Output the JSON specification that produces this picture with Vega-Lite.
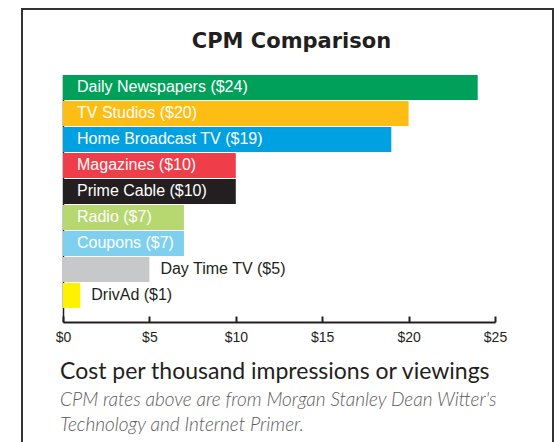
{
  "$schema": "https://vega.github.io/schema/vega-lite/v6.json",
  "width": 531,
  "height": 439,
  "autosize": "none",
  "padding": {"left": 22, "top": 9, "right": 3, "bottom": -6},
  "background": "white",
  "title": {
    "text": "Cost per thousand impressions or viewings",
    "subtitle": ["CPM rates above are from Morgan Stanley Dean Witter's", "Technology and Internet Primer."],
    "orient": "bottom",
    "anchor": "start",
    "frame": "group",
    "offset": -87,
    "dx": 38,
    "font": "Lato",
    "fontSize": 23,
    "fontWeight": "normal",
    "color": "#231F20",
    "subtitleFont": "Lato",
    "subtitleFontSize": 19,
    "subtitleFontStyle": "italic",
    "subtitleFontWeight": 300,
    "subtitleColor": "#5a5a5a",
    "subtitleLineHeight": 25,
    "subtitlePadding": 7
  },
  "data": {
    "values": [
      {"medium": "Daily Newspapers", "cpm": 24, "label": "Daily Newspapers ($24)"},
      {"medium": "TV Studios", "cpm": 20, "label": "TV Studios ($20)"},
      {"medium": "Home Broadcast TV", "cpm": 19, "label": "Home Broadcast TV ($19)"},
      {"medium": "Magazines", "cpm": 10, "label": "Magazines ($10)"},
      {"medium": "Prime Cable", "cpm": 10, "label": "Prime Cable ($10)"},
      {"medium": "Radio", "cpm": 7, "label": "Radio ($7)"},
      {"medium": "Coupons", "cpm": 7, "label": "Coupons ($7)"},
      {"medium": "Day Time TV", "cpm": 5, "label": "Day Time TV ($5)"},
      {"medium": "DrivAd", "cpm": 1, "label": "DrivAd ($1)"}
    ]
  },
  "encoding": {
    "y": {
      "field": "medium",
      "type": "nominal",
      "sort": null,
      "scale": {"range": [66, 313], "paddingInner": 0.04, "paddingOuter": 0.27, "align": 0},
      "axis": {"orient": "left", "offset": -41, "ticks": false, "labels": false, "title": null, "domainColor": "#231F20", "domainWidth": 1.5, "grid": false}
    }
  },
  "layer": [
    {
      "mark": {"type": "bar"},
      "encoding": {
        "x": {
          "field": "cpm",
          "type": "quantitative",
          "scale": {"domain": [0, 25], "range": [41, 473], "nice": false},
          "axis": {"orient": "bottom", "offset": -126, "values": [0, 5, 10, 15, 20, 25], "format": "$.0f", "tickSize": -6, "tickWidth": 2, "tickColor": "#231F20", "domainColor": "#231F20", "domainWidth": 2, "labelFont": "Liberation Sans", "labelFontSize": 14, "labelColor": "#231F20", "labelPadding": 14, "labelFlush": false, "title": null, "grid": false}
        },
        "color": {
          "field": "medium",
          "type": "nominal",
          "scale": {
            "domain": ["Daily Newspapers", "TV Studios", "Home Broadcast TV", "Magazines", "Prime Cable", "Radio", "Coupons", "Day Time TV", "DrivAd"],
            "range": ["#00A05B", "#FDBD13", "#00A1E1", "#EF3E4A", "#231F20", "#B7D771", "#7ED0EE", "#C7C8CA", "#FFF200"]
          },
          "legend": null
        }
      }
    },
    {
      "transform": [{"filter": "datum.cpm > 5"}],
      "mark": {"type": "text", "align": "left", "baseline": "middle", "dx": 14, "font": "Liberation Sans", "fontSize": 16, "color": "white"},
      "encoding": {
        "x": {"datum": 0, "type": "quantitative", "axis": null},
        "text": {"field": "label"}
      }
    },
    {
      "transform": [{"filter": "datum.cpm <= 5"}],
      "mark": {"type": "text", "align": "left", "baseline": "middle", "dx": 11, "font": "Liberation Sans", "fontSize": 16, "color": "#231F20"},
      "encoding": {
        "x": {
          "field": "cpm",
          "type": "quantitative",
          "axis": {"orient": "top", "domain": false, "ticks": false, "labels": false, "grid": false, "title": "CPM Comparison", "titleFont": "DejaVu Sans", "titleFontWeight": "bold", "titleFontSize": 21, "titleColor": "#231F20", "titleX": 269, "titleY": 38, "titleAlign": "center", "titleBaseline": "alphabetic", "titleAngle": 0}
        },
        "text": {"field": "label"}
      }
    }
  ],
  "resolve": {"axis": {"x": "independent"}},
  "config": {
    "view": {"stroke": "#333333", "strokeWidth": 2}
  }
}
